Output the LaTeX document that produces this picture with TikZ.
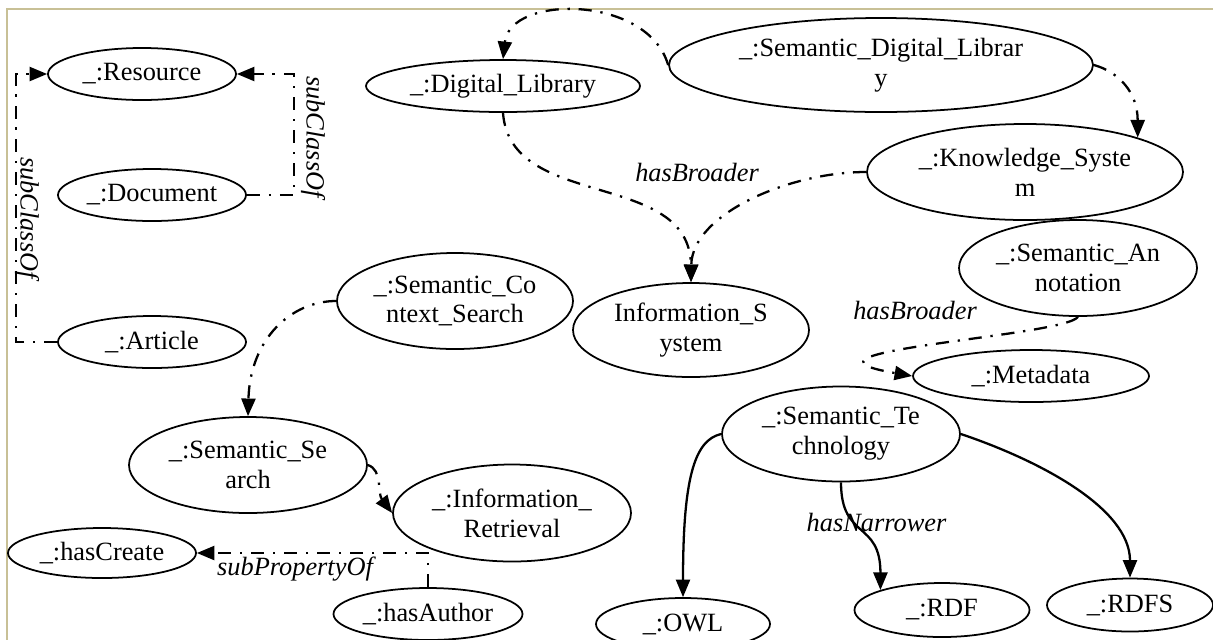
\documentclass[tikz,border=0pt]{standalone}
\usepackage{fontspec}
\setmainfont{Liberation Serif}
\usetikzlibrary{shapes.geometric,arrows.meta}

\begin{document}
\begin{tikzpicture}[
  cls/.style={ellipse,draw,line width=1pt,inner sep=0pt,align=center,
              font=\fontsize{15}{17}\selectfont},
  lbl/.style={inner sep=0pt,font=\fontsize{15}{17}\selectfont\itshape},
  rel/.style={line width=1.3pt,dash pattern=on 7.5pt off 5pt on 1.3pt off 5pt,
              -{Triangle[length=10pt,width=8pt]}},
  isa/.style={line width=1.3pt,-{Triangle[length=10pt,width=8pt]}}]

\useasboundingbox (0,0) rectangle (24.26,-12.78);

%% the frame
\draw [line width=1.6pt,color={rgb,255:red,200;green,192;blue,150}]
      (0.14,-12.9) -- (0.14,-0.18) -- (24.4,-0.18);

%% the classes on the left
\node [cls,minimum width=3.76cm,minimum height=1.04cm] (res) at (2.84,-1.48) {\_:Resource};
\node [cls,minimum width=3.76cm,minimum height=1.04cm] (doc) at (3.04,-3.90) {\_:Document};
\node [cls,minimum width=3.76cm,minimum height=1.04cm] (art) at (3.04,-6.84) {\_:Article};

%% the libraries and systems
\node [cls,minimum width=5.48cm,minimum height=1.04cm] (dl)  at (10.06,-1.72) {\_:Digital\_Library};
\node [cls,minimum width=8.48cm,minimum height=1.88cm] (sdl) at (17.62,-1.30) {\_:Semantic\_Digital\_Librar\\y};
\node [cls,minimum width=6.32cm,minimum height=1.92cm] (ks)  at (20.50,-3.44) {\_:Knowledge\_Syste\\m};
\node [cls,minimum width=4.76cm,minimum height=1.92cm] (sa)  at (21.56,-5.36) {\_:Semantic\_An\\notation};
\node [cls,minimum width=4.72cm,minimum height=1.88cm] (is)  at (13.82,-6.60) {Information\_S\\ystem};
\node [cls,minimum width=4.72cm,minimum height=1.04cm] (md)  at (20.62,-7.52) {\_:Metadata};

%% search and retrieval
\node [cls,minimum width=4.72cm,minimum height=1.92cm] (scs) at (9.10,-6.02)  {\_:Semantic\_Co\\ntext\_Search};
\node [cls,minimum width=4.76cm,minimum height=1.92cm] (ss)  at (4.96,-9.30)  {\_:Semantic\_Se\\arch};
\node [cls,minimum width=4.76cm,minimum height=1.94cm] (ir)  at (10.24,-10.26) {\_:Information\_\\Retrieval};

%% the properties
\node [cls,minimum width=3.76cm,minimum height=1.00cm] (hc) at (2.04,-11.06) {\_:hasCreate};
\node [cls,minimum width=3.78cm,minimum height=1.04cm] (ha) at (8.56,-12.28) {\_:hasAuthor};

%% the technologies
\node [cls,minimum width=4.76cm,minimum height=1.90cm] (st)   at (16.82,-8.68)  {\_:Semantic\_Te\\chnology};
\node [cls,minimum width=3.48cm,minimum height=1.04cm] (owl)  at (13.66,-12.48) {\_:OWL};
\node [cls,minimum width=3.50cm,minimum height=1.08cm] (rdf)  at (18.84,-12.20) {\_:RDF};
\node [cls,minimum width=3.32cm,minimum height=1.06cm] (rdfs) at (22.60,-12.10) {\_:RDFS};

%% subClassOf
\draw [rel] (art.west) -- ++(-0.82,0) |- (res.west);
\draw [rel] (doc.east) -- ++(0.94,0) |- (res.east);
\node [lbl,rotate=-90] (subl) at (0.54,-4.36) {subClassOf};
\node [lbl,rotate=-90] (subr) at (6.26,-2.74) {subClassOf};

%% hasBroader
\draw [rel] (sdl.west) .. controls +(-0.4,1.4) and +(0.14,1.3) .. (dl.north);
\draw [rel] (sdl.east) .. controls +(0.5,-0.14) and +(0,0.9) .. (ks.17);
\draw [rel] (dl.south) .. controls +(0.14,-1.96) and +(-0.02,2.26) .. (is.north);
\draw [rel] (ks.west) .. controls +(-1.54,0) and +(0.02,1.36) .. (is.north);
\node [lbl] (brd1) at (13.94,-3.44) {hasBroader};

\draw [rel] (sa.south) .. controls +(-0.3,-0.4) and +(-2.9,0.5) .. (md.west);
\node [lbl] (brd2) at (18.30,-6.20) {hasBroader};

\draw [rel] (scs.west) .. controls +(-0.9,0) and +(0.04,1.54) .. (ss.north);
\draw [rel] (ss.east) .. controls +(0.3,-0.1) and +(-0.3,0.4) .. (ir.west);

%% subPropertyOf
\draw [rel] (ha.north) |- (hc.east);
\node [lbl] (spo) at (5.90,-11.38) {subPropertyOf};

%% hasNarrower
\draw [isa] (st.west) .. controls +(-0.54,-0.12) and +(0,2.36) .. (owl.north);
\draw [isa] (st.south) .. controls +(0,-1.16) and +(0,1.40) .. (rdf.162);
\draw [isa] (st.east) .. controls +(1.6,-0.54) and +(0,1.38) .. (rdfs.north);
\node [lbl] (nrw) at (17.53,-10.44) {hasNarrower};

\end{tikzpicture}
\end{document}
